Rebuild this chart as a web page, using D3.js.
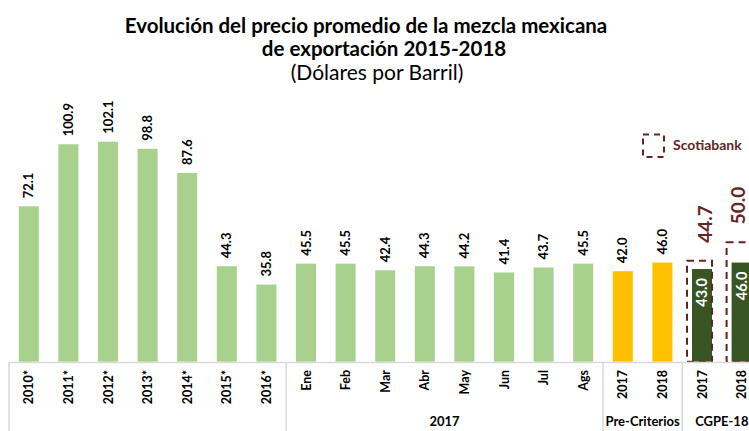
<!DOCTYPE html>
<html>
<head>
<meta charset="utf-8">
<script src="https://cdn.jsdelivr.net/npm/d3@7"></script>
<style>
  html, body { margin: 0; padding: 0; background: #fff; }
  svg { display: block; font-family: Lato, "Noto Sans", sans-serif; }
</style>
</head>
<body>
<svg id="chart" width="749" height="431"></svg>
<script>
// ---- data ----
const categories = ["2010*","2011*","2012*","2013*","2014*","2015*","2016*",
  "Ene","Feb","Mar","Abr","May","Jun","Jul","Ags",
  "2017","2018","2017","2018"];
const values = [72.1,100.9,102.1,98.8,87.6,44.3,35.8,
  45.5,45.5,42.4,44.3,44.2,41.4,43.7,45.5,
  42.0,46.0,43.0,46.0];
const barKind = ["hist","hist","hist","hist","hist","hist","hist",
  "hist","hist","hist","hist","hist","hist","hist","hist",
  "pre","pre","cgpe","cgpe"];
const groupNames = ["", "2017", "Pre-Criterios", "CGPE-18"];
const groupSizes = [7, 8, 2, 2];
const scotiaIndex = [17, 18];
const scotiaValues = [44.7, 50.0];
const titleLines = ["Evolución del precio promedio de la mezcla mexicana", "de exportación 2015-2018"];
const subtitle = "(Dólares por Barril)";
const legendLabel = "Scotiabank";

// ---- styles ----
const colors = { hist: "#A9D18E", pre: "#FFC000", cgpe: "#375623" };
const maroon = "#632523";
const gridGray = "#D9D9D9";

const svg = d3.select("#chart");
const W = 749;
const baseY = 361.7;

const x = d3.scaleBand()
  .domain(d3.range(categories.length))
  .range([9, 761.4])
  .paddingInner(0.495)
  .paddingOuter(0.2475);
const y = d3.scaleLinear().domain([0, 110]).range([baseY, baseY - 110 * 2.155]);
// secondary axis used by the Scotiabank series
const ySec = d3.scaleLinear().domain([15.6, 50]).range([baseY, 242.3]);
const cx = i => x(i) + x.bandwidth() / 2;

// title
const titleX = [366, 384];
svg.append("g").selectAll("text").data(titleLines).join("text")
  .attr("x", (d, i) => titleX[i]).attr("y", (d, i) => 32.5 + i * 23.5)
  .attr("text-anchor", "middle")
  .attr("font-weight", "bold").attr("font-size", 20.5).attr("fill", "#000")
  .text(d => d);
svg.append("text").attr("x", 377).attr("y", 79.5)
  .attr("text-anchor", "middle").attr("font-size", 21).attr("fill", "#000")
  .text(subtitle);

// bars
svg.append("g").selectAll("rect").data(values).join("rect")
  .attr("x", (d, i) => x(i)).attr("width", x.bandwidth())
  .attr("y", d => y(d)).attr("height", d => baseY - y(d))
  .attr("fill", (d, i) => colors[barKind[i]]);

// value labels
svg.append("g").selectAll("text").data(values).join("text")
  .attr("transform", (d, i) => barKind[i] === "cgpe"
      ? `translate(${cx(i)},${y(d) + 9}) rotate(-90)`
      : `translate(${cx(i)},${y(d) - 8}) rotate(-90)`)
  .attr("text-anchor", (d, i) => barKind[i] === "cgpe" ? "end" : "start")
  .attr("dy", "0.36em")
  .attr("font-weight", "bold")
  .attr("font-size", (d, i) => barKind[i] === "cgpe" ? 14.5 : 13)
  .attr("fill", (d, i) => barKind[i] === "cgpe" ? "#fff" : "#000")
  .text(d => d.toFixed(1));

// Scotiabank dashed boxes
const sb = svg.append("g");
sb.selectAll("rect").data(scotiaValues).join("rect")
  .attr("x", (d, i) => cx(scotiaIndex[i]) - 15)
  .attr("width", 25)
  .attr("y", d => ySec(d))
  .attr("height", d => baseY - ySec(d))
  .attr("fill", "none").attr("stroke", maroon).attr("stroke-width", 2)
  .attr("stroke-dasharray", "7,5");
sb.selectAll("text").data(scotiaValues).join("text")
  .attr("transform", (d, i) => `translate(${Math.min(cx(scotiaIndex[i]) + 3, W - 11)},${ySec(d) - 18}) rotate(-90)`)
  .attr("dy", "0.36em")
  .attr("font-weight", "bold").attr("font-size", 19).attr("fill", maroon)
  .text(d => d.toFixed(1));

// legend
svg.append("rect").attr("x", 643).attr("y", 134.5).attr("width", 21).attr("height", 22.5)
  .attr("fill", "none").attr("stroke", maroon).attr("stroke-width", 2)
  .attr("stroke-dasharray", "6,5");
svg.append("text").attr("x", 673).attr("y", 150).attr("font-weight", "bold")
  .attr("font-size", 14).attr("fill", maroon).text(legendLabel);

// axis line
svg.append("line").attr("x1", 9).attr("x2", W).attr("y1", 362.5).attr("y2", 362.5)
  .attr("stroke", gridGray).attr("stroke-width", 1.5);

// category labels
svg.append("g").selectAll("text").data(categories).join("text")
  .attr("transform", (d, i) => `translate(${cx(i)},370) rotate(-90)`)
  .attr("text-anchor", "end").attr("dy", "0.36em")
  .attr("font-weight", "bold").attr("font-size", 12.5).attr("fill", "#000")
  .text(d => d);

// group separators and labels
const starts = [0];
groupSizes.forEach((s, i) => starts.push(starts[i] + s));
const step = x.step();
const sepX = k => 9 + k * step;
svg.append("g").selectAll("line").data(starts.slice(0, groupSizes.length)).join("line")
  .attr("x1", d => sepX(d)).attr("x2", d => sepX(d))
  .attr("y1", 362).attr("y2", 431)
  .attr("stroke", gridGray).attr("stroke-width", 1.5);
svg.append("g").selectAll("text").data(groupNames).join("text")
  .attr("x", (d, i) => (sepX(starts[i]) + sepX(starts[i + 1])) / 2)
  .attr("y", 426)
  .attr("text-anchor", "middle").attr("font-weight", "bold").attr("font-size", 13)
  .attr("fill", "#000")
  .text(d => d);
</script>
</body>
</html>
